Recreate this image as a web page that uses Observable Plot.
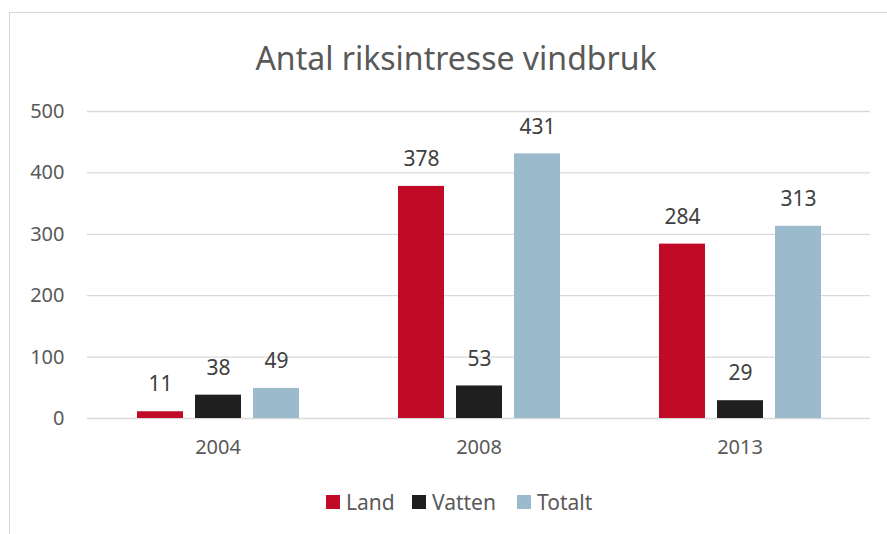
<!DOCTYPE html>
<html>
<head>
<meta charset="utf-8">
<script src="https://cdn.jsdelivr.net/npm/d3@7"></script>
<script src="https://cdn.jsdelivr.net/npm/@observablehq/plot@0.6"></script>
<style>
  html, body { margin: 0; padding: 0; background: #fff; }
  #wrap { position: relative; width: 887px; height: 534px; overflow: hidden; font-family: "Noto Sans", sans-serif; }
  #frame { position: absolute; left: 9px; top: 12px; width: 900px; height: 600px; border: 1px solid #d9d9d9; box-sizing: border-box; }
  #title { position: absolute; left: 0; top: 36px; width: 912px; text-align: center; font-size: 32px; color: #595959; }
  #chart { position: absolute; left: 0; top: 90px; }
  #legend { position: absolute; left: 0; top: 488px; width: 887px; height: 26px; }
  .item { position: absolute; top: 0; display: flex; align-items: center; font-size: 21px; color: #595959; }
  .sw { width: 14px; height: 14px; margin-right: 6px; }
</style>
</head>
<body>
<div id="wrap">
  <div id="frame"></div>
  <div id="title">Antal riksintresse vindbruk</div>
  <div id="chart"></div>
  <div id="legend"></div>
</div>
<script>
const years = ["2004", "2008", "2013"];
const series = ["Land", "Vatten", "Totalt"];
const land = [11, 378, 284];
const vatten = [38, 53, 29];
const totalt = [49, 431, 313];
const colors = ["#c00a26", "#1f1f1f", "#9bbacc"];
const yTicks = [0, 100, 200, 300, 400, 500];

const values = [land, vatten, totalt];
const data = [];
years.forEach((yr, i) => series.forEach((s, j) => data.push({year: yr, series: s, value: values[j][i]})));

const chart = Plot.plot({
  width: 887,
  height: 380,
  marginLeft: 86,
  marginRight: 16,
  marginTop: 21,
  marginBottom: 52,
  style: {fontFamily: "Noto Sans, sans-serif", color: "#595959", background: "transparent"},
  fx: {domain: years, padding: 0, label: null},
  x: {domain: series, paddingInner: 0.207, paddingOuter: 0.85, axis: null},
  y: {domain: [0, 500], label: null},
  color: {domain: series, range: colors},
  marks: [
    Plot.gridY(yTicks, {stroke: "#d9d9d9", strokeOpacity: 1, strokeWidth: 1.3}),
    Plot.axisY({ticks: yTicks, tickSize: 0, tickPadding: 23, fontSize: 20, fill: "#595959", label: null}),
    Plot.axisFx({anchor: "bottom", tickSize: 0, tickPadding: 21, fontSize: 20, fill: "#595959", label: null}),
    Plot.barY(data, {fx: "year", x: "series", y: "value", fill: "series"}),
    Plot.text(data, {fx: "year", x: "series", y: "value", text: d => String(d.value), dy: -27, fill: "#404040", fontSize: 21})
  ]
});
document.getElementById("chart").appendChild(chart);

const legend = document.getElementById("legend");
const lx = [326, 412, 517];
series.forEach((s, i) => {
  const it = document.createElement("div");
  it.className = "item";
  it.style.left = lx[i] + "px";
  it.innerHTML = `<div class="sw" style="background:${colors[i]}"></div><span>${s}</span>`;
  legend.appendChild(it);
});
</script>
</body>
</html>
